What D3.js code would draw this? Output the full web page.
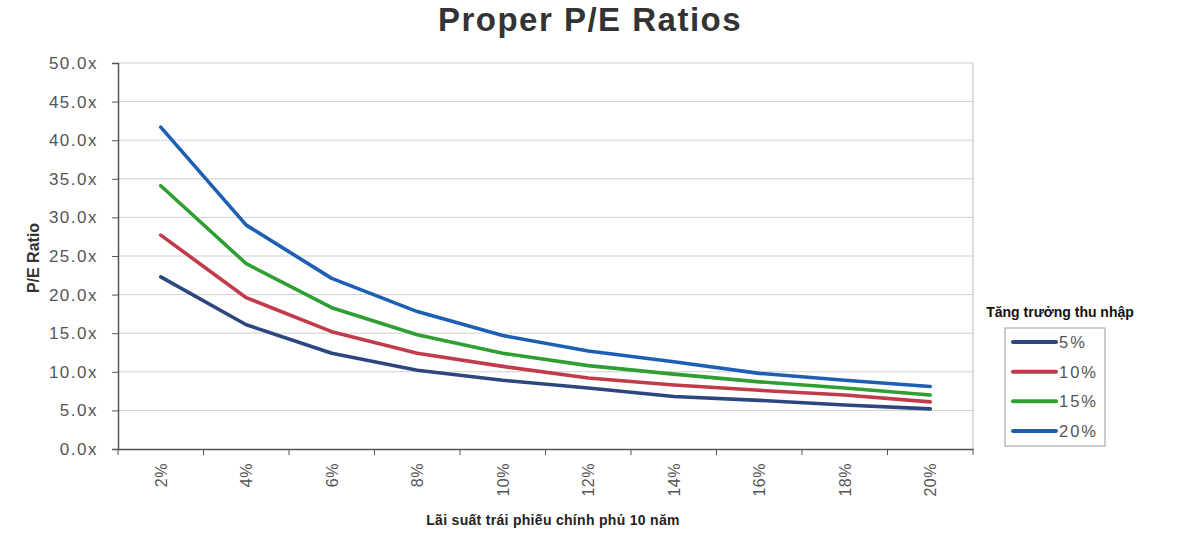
<!DOCTYPE html>
<html><head><meta charset="utf-8">
<script src="https://cdn.jsdelivr.net/npm/d3@7/dist/d3.min.js"></script>
<style>body{margin:0;background:#fff;} text{font-family:"Liberation Sans",Arial,sans-serif;}</style>
</head><body><svg id="c" width="1200" height="533"></svg>
<script>
const categories = ["2%","4%","6%","8%","10%","12%","14%","16%","18%","20%"];
const seriesNames = ["5%","10%","15%","20%"];
const s5  = [22.3,16.1,12.4,10.2,8.9,7.9,6.8,6.3,5.7,5.2];
const s10 = [27.7,19.6,15.2,12.4,10.7,9.2,8.3,7.6,7.0,6.1];
const s15 = [34.1,24.0,18.3,14.8,12.4,10.8,9.7,8.7,7.9,7.0];
const s20 = [41.7,29.0,22.1,17.8,14.7,12.7,11.3,9.8,8.9,8.1];
const yTicks = [0,5,10,15,20,25,30,35,40,45,50];
const colors = ["#2d4680","#c23b4a","#2f9e33","#1c5fb3"];
const series = [s5,s10,s15,s20];

const svg = d3.select("#c");
const L=118, R=973, T=63, B=449;
const x = d3.scaleBand().domain(categories).range([L,R]);
const y = d3.scaleLinear().domain([0,50]).range([B,T]);

svg.append("text").attr("x",590).attr("y",31).attr("text-anchor","middle")
  .attr("font-size",33).attr("font-weight","bold").attr("letter-spacing","1.5px").attr("fill","#333").text("Proper P/E Ratios");

// gridlines
svg.append("g").selectAll("line").data(yTicks.filter(d=>d>0)).join("line")
  .attr("x1",L).attr("x2",R).attr("y1",d=>y(d)).attr("y2",d=>y(d))
  .attr("stroke","#cfcfcf").attr("stroke-width",1);
svg.append("line").attr("x1",R).attr("x2",R).attr("y1",T).attr("y2",B).attr("stroke","#bbb");

// y axis
const ya = svg.append("g").attr("transform",`translate(${L},0)`)
  .call(d3.axisLeft(y).tickValues(yTicks).tickFormat(d=>d.toFixed(1)+"x").tickSize(6).tickPadding(14));
ya.select(".domain").attr("stroke","#555").attr("stroke-width",1.5);
ya.selectAll(".tick line").attr("stroke","#555");
ya.selectAll("text").attr("font-size",17).attr("fill","#555").attr("letter-spacing","1.5px")
  .style("font-family","'Liberation Sans',Arial,sans-serif");

// x axis
const xa = svg.append("g").attr("transform",`translate(0,${B})`)
  .call(d3.axisBottom(x).tickSize(0).tickFormat(""));
xa.select(".domain").attr("stroke","#555").attr("stroke-width",1.5);
const bounds = categories.map(c=>x(c)).concat([R]);
xa.selectAll(".btick").data(bounds).join("line").attr("class","btick")
  .attr("x1",d=>d).attr("x2",d=>d).attr("y1",0).attr("y2",6).attr("stroke","#555");
svg.append("g").selectAll("text").data(categories).join("text")
  .attr("transform",d=>`translate(${x(d)+x.bandwidth()/2+6},463) rotate(-90)`)
  .attr("text-anchor","end").attr("font-size",16).attr("fill","#555").attr("letter-spacing","0.5px").text(d=>d);

svg.append("text").attr("transform","translate(39,258) rotate(-90)").attr("text-anchor","middle")
  .attr("font-size",16).attr("font-weight","bold").attr("fill","#333").text("P/E Ratio");
svg.append("text").attr("x",553).attr("y",525).attr("text-anchor","middle")
  .attr("font-size",14).attr("font-weight","bold").attr("fill","#222").attr("letter-spacing","0.3px").text("Lãi suất trái phiếu chính phủ 10 năm");

const line = d3.line().x((d,i)=>x(categories[i])+x.bandwidth()/2).y(d=>y(d));
series.forEach((s,k)=>{
  svg.append("path").datum(s).attr("d",line).attr("fill","none")
    .attr("stroke",colors[k]).attr("stroke-width",3.6).attr("stroke-linejoin","round").attr("stroke-linecap","round");
});

// legend
svg.append("text").attr("x",1060).attr("y",317).attr("text-anchor","middle")
  .attr("font-size",14).attr("font-weight","bold").attr("fill","#111").text("Tăng trưởng thu nhập");
svg.append("rect").attr("x",1005).attr("y",328).attr("width",100).attr("height",118)
  .attr("fill","none").attr("stroke","#999");
const ly = d3.scalePoint().domain(seriesNames).range([342,431]);
seriesNames.forEach((n,k)=>{
  svg.append("line").attr("x1",1013).attr("x2",1056).attr("y1",ly(n)).attr("y2",ly(n))
    .attr("stroke",colors[k]).attr("stroke-width",4).attr("stroke-linecap","round");
  svg.append("text").attr("x",1059).attr("y",ly(n)+6).attr("font-size",16.5).attr("fill","#555")
    .attr("letter-spacing","2px").text(n);
});
</script></body></html>
